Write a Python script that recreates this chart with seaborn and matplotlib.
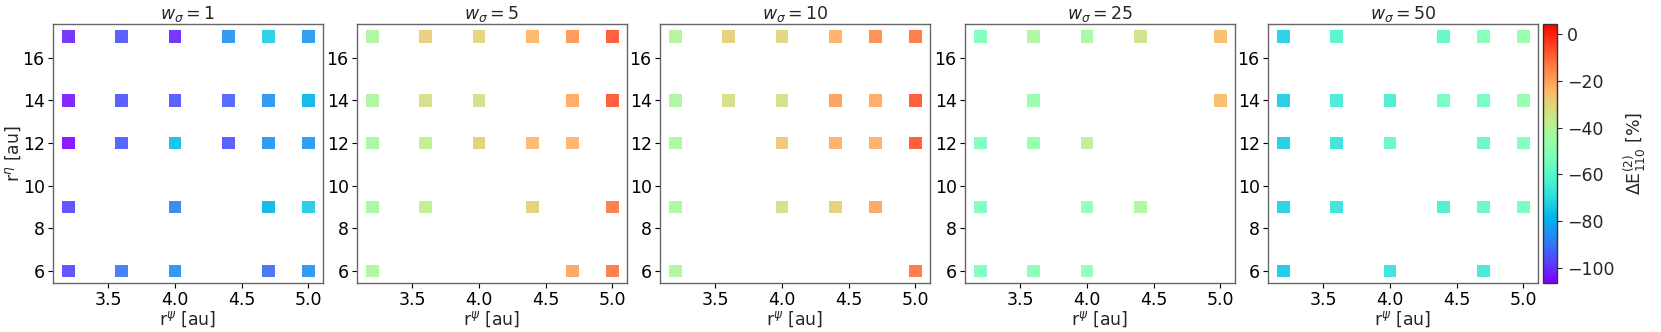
import numpy as np
import pandas as pd
import matplotlib
matplotlib.use("Agg")
import matplotlib.pyplot as plt
import seaborn as sns

# ---- data -------------------------------------------------------------
w_sigma = [1, 5, 10, 25, 50]

# w_sigma = 1
x_w1 = [3.2, 3.6, 4.0, 4.4, 4.7, 5.0,
        3.2, 3.6, 4.0, 4.4, 4.7, 5.0,
        3.2, 3.6, 4.0, 4.4, 4.7, 5.0,
        3.2, 4.0, 4.7, 5.0,
        3.2, 3.6, 4.0, 4.7, 5.0]
y_w1 = [17, 17, 17, 17, 17, 17,
        14, 14, 14, 14, 14, 14,
        12, 12, 12, 12, 12, 12,
        9, 9, 9, 9,
        6, 6, 6, 6, 6]
v_w1 = [-101, -95, -102, -85, -73, -84,
        -104, -95, -95, -93, -85, -79,
        -106, -94, -77, -95, -85, -84,
        -97, -88, -79, -74,
        -97, -90, -86, -91, -85]

# w_sigma = 5
x_w5 = [3.2, 3.6, 4.0, 4.4, 4.7, 5.0,
        3.2, 3.6, 4.0, 4.7, 5.0,
        3.2, 3.6, 4.0, 4.4, 4.7,
        3.2, 3.6, 4.4, 5.0,
        3.2, 4.7, 5.0]
y_w5 = [17, 17, 17, 17, 17, 17,
        14, 14, 14, 14, 14,
        12, 12, 12, 12, 12,
        9, 9, 9, 9,
        6, 6, 6]
v_w5 = [-42, -29, -30, -23, -17, -7,
        -42, -33, -34, -21, -7,
        -43, -37, -28, -24, -23,
        -43, -37, -29, -13,
        -42, -20, -13]

# w_sigma = 10
x_w10 = [3.2, 3.6, 4.0, 4.4, 4.7, 5.0,
         3.2, 3.6, 4.0, 4.4, 4.7, 5.0,
         3.2, 4.0, 4.4, 4.7, 5.0,
         3.2, 4.0, 4.4, 4.7,
         3.2, 5.0]
y_w10 = [17, 17, 17, 17, 17, 17,
         14, 14, 14, 14, 14, 14,
         12, 12, 12, 12, 12,
         9, 9, 9, 9,
         6, 6]
v_w10 = [-40, -29, -30, -22, -16, -12,
         -42, -33, -34, -19, -21, -7,
         -42, -27, -22, -22, -7,
         -42, -34, -29, -20,
         -41, -12]

# w_sigma = 25
x_w25 = [3.2, 3.6, 4.0, 4.4, 5.0,
         3.6, 5.0,
         3.2, 3.6, 4.0,
         3.2, 4.0, 4.4,
         3.2, 3.6, 4.0]
y_w25 = [17, 17, 17, 17, 17,
         14, 14,
         12, 12, 12,
         9, 9, 9,
         6, 6, 6]
v_w25 = [-53, -42, -44, -34, -25,
         -47, -25,
         -53, -48, -40,
         -53, -47, -42,
         -53, -50, -47]

# w_sigma = 50
x_w50 = [3.2, 3.6, 4.4, 4.7, 5.0,
         3.2, 3.6, 4.0, 4.4, 4.7, 5.0,
         3.2, 3.6, 4.0, 4.7, 5.0,
         3.2, 3.6, 4.4, 4.7, 5.0,
         3.2, 4.0, 4.7]
y_w50 = [17, 17, 17, 17, 17,
         14, 14, 14, 14, 14, 14,
         12, 12, 12, 12, 12,
         9, 9, 9, 9, 9,
         6, 6, 6]
v_w50 = [-73, -62, -59, -52, -47,
         -74, -65, -64, -55, -55, -48,
         -74, -68, -58, -58, -52,
         -73, -68, -64, -58, -55,
         -75, -68, -67]

xs = [x_w1, x_w5, x_w10, x_w25, x_w50]
ys = [y_w1, y_w5, y_w10, y_w25, y_w50]
vs = [v_w1, v_w5, v_w10, v_w25, v_w50]

vmin, vmax = -106.5, 4.3
cbar_ticks = [0, -20, -40, -60, -80, -100]

frames = []
for w, x, y, v in zip(w_sigma, xs, ys, vs):
    frames.append(pd.DataFrame({"w": w, "r_psi": x, "r_eta": y, "dE": v}))
df = pd.concat(frames, ignore_index=True)

# ---- style ------------------------------------------------------------
sns.set_style("ticks", {"axes.edgecolor": "0.4"})
plt.rcParams["font.family"] = ["DejaVu Sans"]
FS = 12.5
plt.rcParams["font.size"] = FS
plt.rcParams["axes.linewidth"] = 1.0
plt.rcParams["xtick.major.size"] = 3.5
plt.rcParams["ytick.major.size"] = 3.5

W, H = 1661, 332
fig = plt.figure(figsize=(W / 100, H / 100), dpi=100)

lefts = [53, 357, 660, 965, 1268]
ax_w = 270
top, bottom = 24, 283
norm = plt.Normalize(vmin, vmax)
cmap = plt.get_cmap("rainbow")

for i, w in enumerate(w_sigma):
    ax = fig.add_axes([lefts[i] / W, 1 - bottom / H, ax_w / W, (bottom - top) / H])
    sub = df[df["w"] == w]
    sns.scatterplot(data=sub, x="r_psi", y="r_eta", hue="dE", palette="rainbow",
                    hue_norm=norm, marker="s", s=80, linewidth=0, alpha=0.9,
                    legend=False, ax=ax)
    ax.set_xlim(3.085, 5.11)
    ax.set_ylim(5.44, 17.58)
    ax.set_xticks([3.5, 4.0, 4.5, 5.0])
    ax.set_yticks([6, 8, 10, 12, 14, 16])
    ax.tick_params(labelsize=FS, colors="black", width=0.8, pad=2.5)
    ax.set_title(r"$w_\sigma = %d$" % w, fontsize=FS, pad=3)
    ax.set_xlabel(r"r$^\psi$ [au]", fontsize=FS, labelpad=0)
    if i == 0:
        ax.set_ylabel(r"r$^\eta$ [au]", fontsize=FS, labelpad=0)
    else:
        ax.set_ylabel("")

cax = fig.add_axes([1543 / W, 1 - bottom / H, 14 / W, (bottom - top) / H])
sm = plt.cm.ScalarMappable(norm=norm, cmap=cmap)
sm.set_array([])
cb = fig.colorbar(sm, cax=cax)
cb.set_ticks(cbar_ticks)
cb.ax.tick_params(labelsize=FS)
cb.outline.set_edgecolor("0.2")
cb.set_label(r"$\Delta$E$^{(2)}_{110}$ [%]", fontsize=FS, labelpad=5)

fig.savefig("out.png", dpi=100)
